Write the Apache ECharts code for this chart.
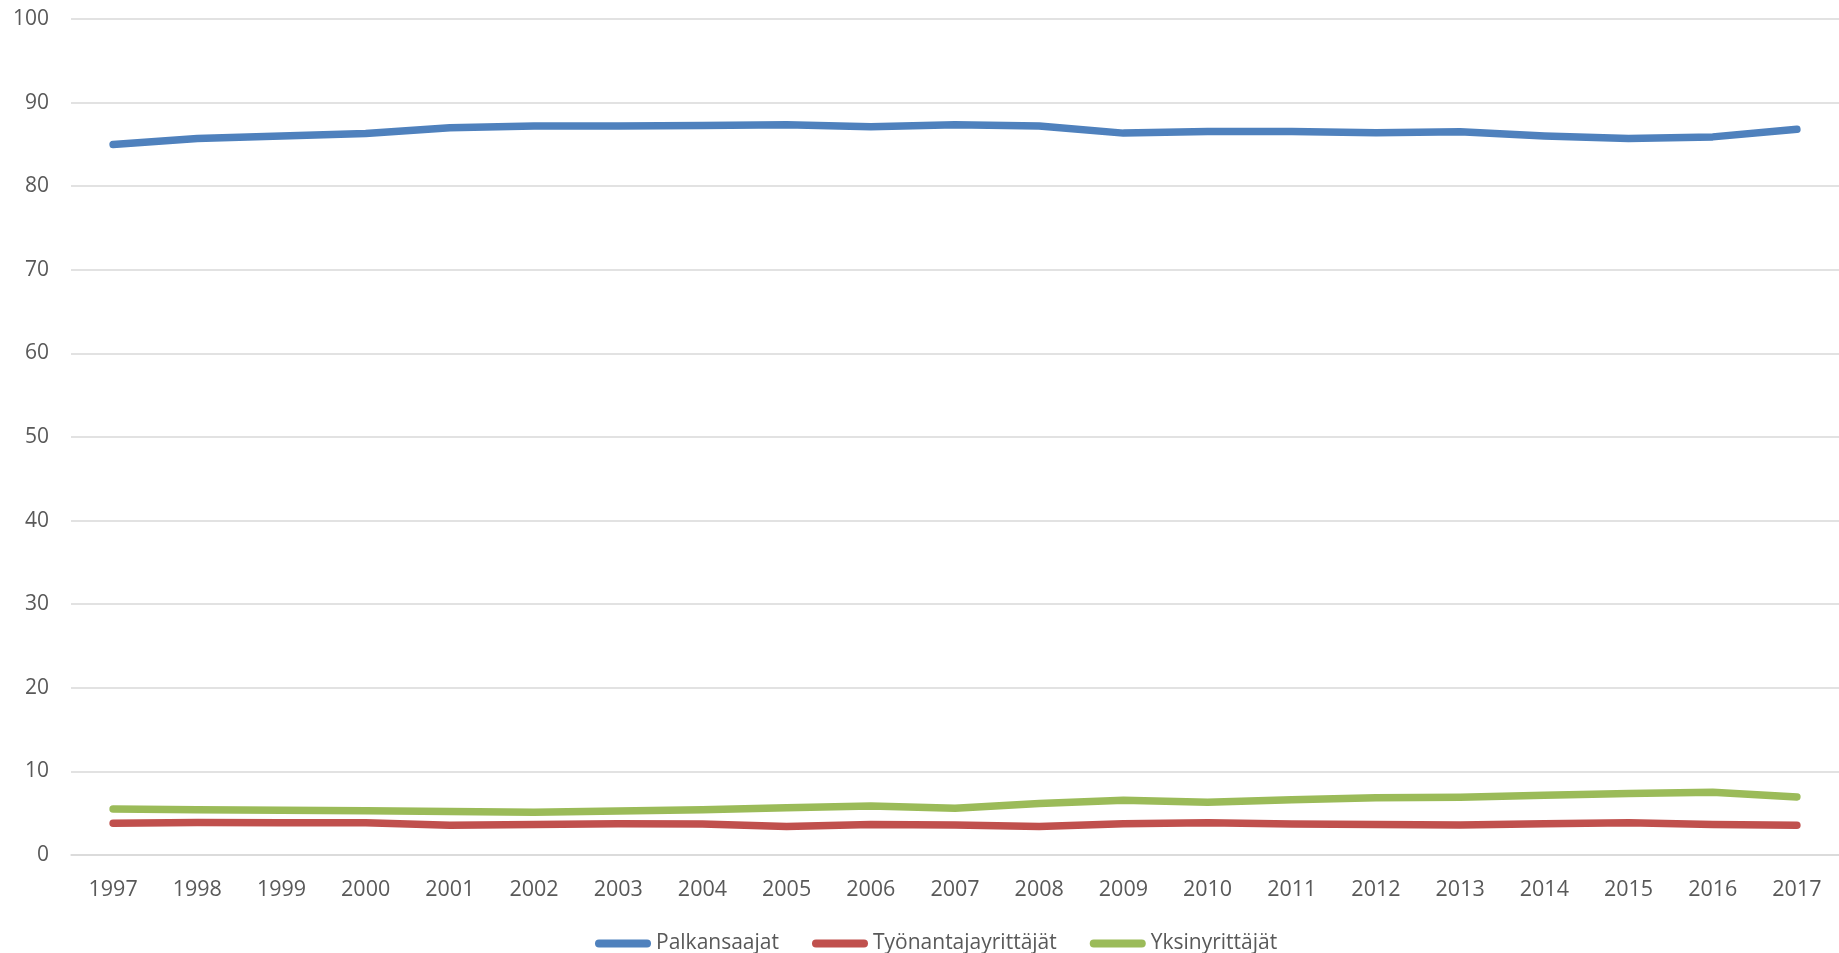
<!DOCTYPE html>
<html>
<head>
<meta charset="utf-8">
<script src="https://cdn.jsdelivr.net/npm/echarts@6/dist/echarts.min.js"></script>
<style>
html, body { margin: 0; padding: 0; background: #fff; }
#myChart { width: 1839px; height: 953px; }
</style>
</head>
<body>
<div id="myChart"></div>
<script>
// data
const years = ['1997', '1998', '1999', '2000', '2001', '2002', '2003', '2004', '2005', '2006', '2007',
  '2008', '2009', '2010', '2011', '2012', '2013', '2014', '2015', '2016', '2017']
const palkansaajat = [85.0, 85.7, 86.0, 86.3, 87.0, 87.2, 87.2, 87.25, 87.35, 87.1, 87.35,
  87.2, 86.35, 86.55, 86.55, 86.4, 86.5, 86.0, 85.7, 85.9, 86.8]
const tyonantajayrittajat = [3.8, 3.9, 3.85, 3.85, 3.55, 3.65, 3.75, 3.7, 3.4, 3.65, 3.6,
  3.4, 3.75, 3.85, 3.7, 3.65, 3.6, 3.75, 3.85, 3.65, 3.55]
const yksinyrittajat = [5.5, 5.42, 5.35, 5.3, 5.2, 5.1, 5.25, 5.4, 5.65, 5.85, 5.6,
  6.15, 6.55, 6.3, 6.6, 6.85, 6.9, 7.15, 7.35, 7.5, 6.95]
const yTicks = { min: 0, max: 100, interval: 10 }

const font = '"Open Sans", "Noto Sans", sans-serif'
const legendIcon = 'path://M4,0 L52,0 A4,4 0 0 1 52,8 L4,8 A4,4 0 0 1 4,0 Z'

function lineSeries(name, data, color) {
  return {
    name: name,
    type: 'line',
    data: data,
    symbol: 'none',
    showSymbol: false,
    color: color,
    lineStyle: { width: 7.5, color: color, cap: 'round', join: 'round' },
    animation: false
  }
}

let myChart = echarts.init(document.getElementById('myChart'))
myChart.setOption({
  backgroundColor: '#fff',
  animation: false,
  textStyle: { fontFamily: font },
  grid: { left: 71, top: 19, width: 1775.5, height: 836 },
  legend: {
    left: 590,
    top: 928,
    itemWidth: 56,
    itemHeight: 8,
    itemGap: 33,
    icon: legendIcon,
    textStyle: { fontFamily: font, fontSize: 21, color: '#595959' },
    data: ['Palkansaajat', 'Työnantajayrittäjät', 'Yksinyrittäjät']
  },
  xAxis: {
    type: 'category',
    data: years,
    boundaryGap: true,
    axisLine: { show: true, lineStyle: { color: '#d9d9d9', width: 1.5 } },
    axisTick: { show: false },
    axisLabel: { fontFamily: font, fontSize: 21.5, color: '#595959', margin: 24 }
  },
  yAxis: {
    type: 'value',
    min: yTicks.min,
    max: yTicks.max,
    interval: yTicks.interval,
    axisLine: { show: false },
    axisTick: { show: false },
    axisLabel: { fontFamily: font, fontSize: 21, color: '#595959', margin: 22 },
    splitLine: { lineStyle: { color: '#d9d9d9', width: 1.5 } }
  },
  series: [
    lineSeries('Palkansaajat', palkansaajat, '#4f81bd'),
    lineSeries('Työnantajayrittäjät', tyonantajayrittajat, '#c0504d'),
    lineSeries('Yksinyrittäjät', yksinyrittajat, '#9bbb59')
  ]
})
</script>
</body>
</html>
